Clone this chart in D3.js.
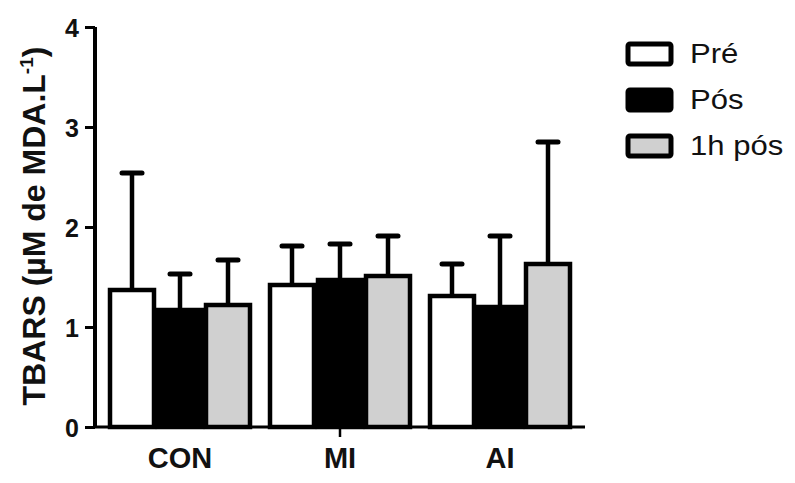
<!DOCTYPE html>
<html>
<head>
<meta charset="utf-8">
<script src="https://cdn.jsdelivr.net/npm/d3@7"></script>
<style>
  body { margin: 0; background: #fff; }
  text { font-family: Arial, "Liberation Sans", sans-serif; }
</style>
</head>
<body>
<div id="chart"></div>
<script>
const groups = ['CON', 'MI', 'AI'];
const series = ['Pré', 'Pós', '1h pós'];
const preMean = [1.37, 1.42, 1.31];
const preSd = [1.17, 0.39, 0.32];
const posMean = [1.17, 1.47, 1.20];
const posSd = [0.36, 0.36, 0.71];
const h1Mean = [1.22, 1.51, 1.63];
const h1Sd = [0.45, 0.40, 1.22];
const yTicks = [0, 1, 2, 3, 4];
const fills = ['#ffffff', '#000000', '#d0d0d0'];

const draw = () => {
  const dimensions = {
    width: 795,
    height: 483,
    margin: { top: 27, bottom: 56, left: 95, right: 210 }
  };
  dimensions.containerWidth = dimensions.width - dimensions.margin.left - dimensions.margin.right;
  dimensions.containerHeight = dimensions.height - dimensions.margin.top - dimensions.margin.bottom;

  const means = [preMean, posMean, h1Mean];
  const sds = [preSd, posSd, h1Sd];
  const dataSet = [];
  groups.forEach((g, gi) => {
    series.forEach((s, si) => {
      dataSet.push({ group: g, series: s, si, mean: means[si][gi], sd: sds[si][gi] });
    });
  });

  const svg = d3.select('#chart')
    .append('svg')
    .attr('width', dimensions.width)
    .attr('height', dimensions.height);

  const container = svg.append('g')
    .attr('transform', `translate(${dimensions.margin.left}, ${dimensions.margin.top})`);

  const xScale = d3.scaleBand()
    .domain(groups)
    .range([5, dimensions.containerWidth - 5])
    .paddingInner(0.1)
    .paddingOuter(0.05);

  const innerScale = d3.scaleBand()
    .domain(series)
    .range([0, xScale.bandwidth()]);

  const yScale = d3.scaleLinear()
    .domain([0, 4])
    .range([dimensions.containerHeight, 0]);

  const centerX = (d) => xScale(d.group) + innerScale(d.series) + innerScale.bandwidth() / 2;

  // error bars (upper only)
  const errG = container.append('g');
  errG.selectAll('line.stem')
    .data(dataSet)
    .join('line')
    .attr('class', 'stem')
    .attr('x1', centerX)
    .attr('x2', centerX)
    .attr('y1', (d) => yScale(d.mean))
    .attr('y2', (d) => yScale(d.mean + d.sd))
    .attr('stroke', '#000')
    .attr('stroke-width', 4.5);
  errG.selectAll('line.cap')
    .data(dataSet)
    .join('line')
    .attr('class', 'cap')
    .attr('x1', (d) => centerX(d) - 10)
    .attr('x2', (d) => centerX(d) + 10)
    .attr('y1', (d) => yScale(d.mean + d.sd))
    .attr('y2', (d) => yScale(d.mean + d.sd))
    .attr('stroke', '#000')
    .attr('stroke-width', 5)
    .attr('stroke-linecap', 'round');

  // bars
  container.append('g')
    .selectAll('rect')
    .data(dataSet)
    .join('rect')
    .attr('x', (d) => xScale(d.group) + innerScale(d.series) + 2)
    .attr('width', innerScale.bandwidth() - 4)
    .attr('y', (d) => yScale(d.mean))
    .attr('height', (d) => yScale(0) - yScale(d.mean))
    .attr('fill', (d) => fills[d.si])
    .attr('stroke', '#000')
    .attr('stroke-width', 4.5);

  // y axis
  const yAxis = d3.axisLeft(yScale)
    .tickValues(yTicks)
    .tickSize(10)
    .tickPadding(6)
    .tickFormat(d3.format('d'));
  const yAxisGroup = container.append('g').call(yAxis);
  yAxisGroup.select('.domain')
    .attr('d', `M0,${dimensions.containerHeight}V0`)
    .attr('stroke-width', 4);
  yAxisGroup.selectAll('.tick line').attr('stroke-width', 3);
  yAxisGroup.selectAll('.tick text')
    .attr('dy', '0.36em')
    .attr('font-size', 25)
    .attr('font-weight', 'bold')
    .attr('fill', '#111');

  // x axis
  const xAxis = d3.axisBottom(xScale).tickSize(0).tickPadding(20);
  const xAxisGroup = container.append('g')
    .attr('transform', `translate(0, ${dimensions.containerHeight})`)
    .call(xAxis);
  xAxisGroup.select('.domain')
    .attr('d', `M0,0H${dimensions.containerWidth}`)
    .attr('stroke-width', 3);
  xAxisGroup.selectAll('.tick text')
    .attr('font-size', 29)
    .attr('font-weight', 'bold')
    .attr('fill', '#111');
  xAxisGroup.append('line')
    .attr('x1', xScale('MI') + xScale.bandwidth() / 2)
    .attr('x2', xScale('MI') + xScale.bandwidth() / 2)
    .attr('y1', 0)
    .attr('y2', 10)
    .attr('stroke', '#000')
    .attr('stroke-width', 2.5);

  // y axis label
  const yLabel = svg.append('text')
    .attr('transform', 'translate(45, 226) rotate(-90)')
    .attr('text-anchor', 'middle')
    .attr('font-size', 32)
    .attr('font-weight', 'bold')
    .attr('fill', '#111');
  yLabel.append('tspan').text('TBARS (µM de MDA.L');
  yLabel.append('tspan').attr('font-size', 19).attr('dy', -12).text('-1');
  yLabel.append('tspan').attr('dy', 12).text(')');

  // legend
  const legend = svg.append('g').attr('transform', 'translate(626, 42)');
  const rows = legend.selectAll('g')
    .data(series)
    .join('g')
    .attr('transform', (d, i) => `translate(0, ${i * 46})`);
  rows.append('rect')
    .attr('x', 2)
    .attr('y', 2)
    .attr('width', 43)
    .attr('height', 20)
    .attr('rx', 2)
    .attr('fill', (d, i) => fills[i])
    .attr('stroke', '#000')
    .attr('stroke-width', 5);
  rows.append('text')
    .attr('transform', 'translate(64, 21) scale(1.15,1)')
    .attr('font-size', 27)
    .attr('fill', '#111')
    .text((d) => d);
};

draw();
</script>
</body>
</html>
